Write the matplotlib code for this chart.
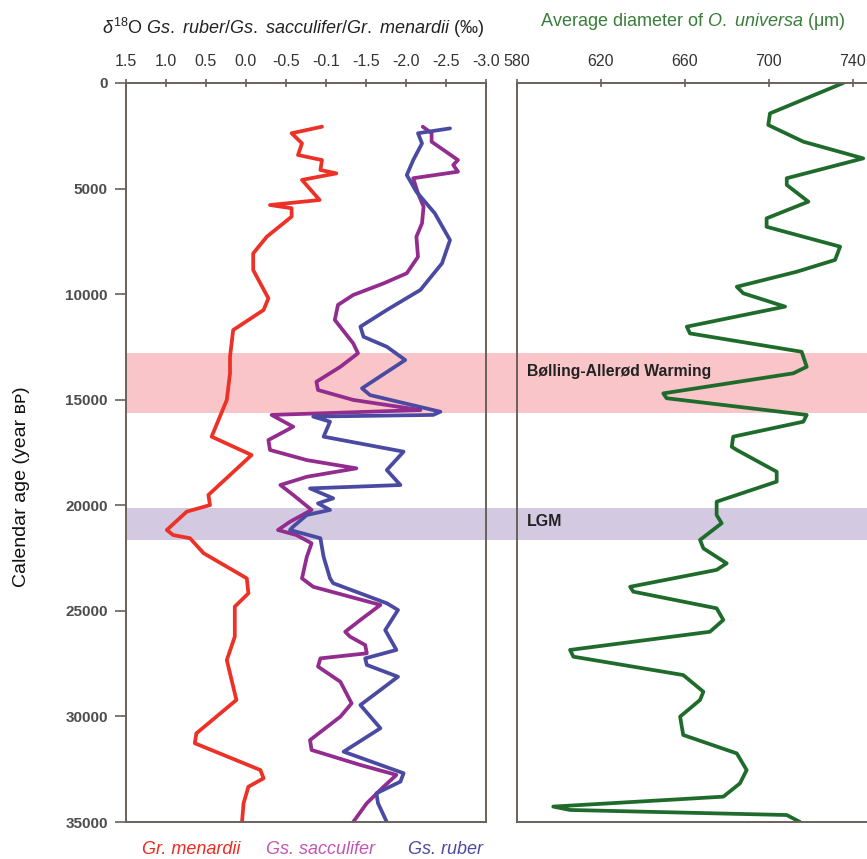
import numpy as np
import matplotlib.pyplot as plt
from matplotlib.patches import Rectangle
from matplotlib.transforms import blended_transform_factory

plt.rcParams['font.family'] = ['Liberation Sans', 'DejaVu Sans']
plt.rcParams['mathtext.fontset'] = 'custom'
plt.rcParams['mathtext.rm'] = 'Liberation Sans'
plt.rcParams['mathtext.it'] = 'Liberation Sans:italic'
plt.rcParams['mathtext.bf'] = 'Liberation Sans:bold'

# Gr. menardii (red)
men_age = [2070, 2380, 2860, 3410, 3650, 4120, 4280, 4590, 5540, 5780,
           5930, 6330, 7280, 8070, 8860, 10200, 10750, 11700, 12960, 13750,
           15010, 16750, 17620, 19510, 19990, 20300, 21170, 21410, 21560, 22270,
           23460, 24170, 24800, 26220, 27330, 29220, 30800, 31270, 32540, 32930,
           33330, 34110, 35000]
men_d18o = [-0.95, -0.57, -0.70, -0.65, -0.95, -0.93, -1.13, -0.70, -0.92, -0.30,
            -0.57, -0.57, -0.26, -0.09, -0.09, -0.28, -0.22, 0.16, 0.20, 0.20,
            0.24, 0.43, -0.07, 0.47, 0.45, 0.74, 0.99, 0.91, 0.70, 0.53,
            -0.01, -0.03, 0.14, 0.14, 0.24, 0.12, 0.62, 0.64, -0.18, -0.22,
            -0.03, 0.03, 0.05]

# Gs. sacculifer (purple)
sac_age = [2070, 2380, 2780, 3650, 3880, 4200, 4510, 5220, 5860, 6650,
           7280, 8230, 9010, 9490, 10040, 10510, 11220, 12330, 12800, 13440,
           14150, 14540, 15010, 15490, 15720, 16280, 16910, 17380, 17860, 18250,
           18650, 19040, 19510, 20220, 20780, 21170, 21410, 21800, 22440, 23460,
           23860, 24720, 25430, 25990, 26220, 26620, 27010, 27250, 27640, 28360,
           29380, 30010, 31120, 31590, 32300, 32770, 33330, 34110, 35000]
sac_d18o = [-2.21, -2.32, -2.32, -2.65, -2.59, -2.65, -2.09, -2.15, -2.22, -2.20,
            -2.13, -2.15, -2.01, -1.72, -1.34, -1.15, -1.11, -1.34, -1.40, -1.18,
            -0.88, -0.90, -1.34, -2.18, -0.32, -0.59, -0.28, -0.30, -0.76, -1.38,
            -0.76, -0.43, -0.59, -0.82, -0.55, -0.40, -0.63, -0.82, -0.76, -0.70,
            -0.84, -1.68, -1.43, -1.24, -1.30, -1.49, -1.51, -0.93, -0.90, -1.18,
            -1.32, -1.18, -0.80, -0.82, -1.43, -1.88, -1.72, -1.51, -1.34]

# Gs. ruber (blue)
rub_age = [2150, 2380, 2860, 3650, 4360, 5150, 6170, 7440, 8540, 9800,
           10750, 11540, 12020, 12490, 13120, 14460, 14780, 15570, 15720, 15800,
           16040, 16750, 17460, 18330, 19040, 19200, 19670, 19910, 20220, 20460,
           21010, 21170, 21560, 22440, 23460, 23690, 24640, 24960, 25910, 26850,
           27250, 27560, 28120, 29460, 30560, 31670, 32690, 33090, 33640, 34110,
           35000]
rub_d18o = [-2.55, -2.15, -2.20, -2.09, -2.01, -2.13, -2.36, -2.55, -2.45, -2.18,
            -1.76, -1.43, -1.47, -1.76, -1.99, -1.45, -1.55, -2.43, -2.34, -0.84,
            -1.05, -0.97, -1.97, -1.76, -1.93, -0.80, -1.09, -0.90, -1.05, -0.76,
            -0.59, -0.55, -0.93, -0.97, -1.05, -1.09, -1.76, -1.90, -1.74, -1.88,
            -1.49, -1.51, -1.90, -1.43, -1.68, -1.22, -1.97, -1.93, -1.63, -1.65,
            -1.76]

# O. universa average diameter (green)
uni_age = [0, 1440, 1990, 2780, 3570, 4510, 4830, 5620, 6410, 6810,
           7750, 8380, 8940, 9650, 9960, 10590, 11540, 11860, 12730, 13440,
           13750, 14700, 14930, 15720, 16040, 16750, 17230, 17380, 18410, 18880,
           19830, 20460, 20850, 21640, 22040, 22750, 23060, 23860, 24090, 24880,
           25430, 25990, 26850, 27170, 28040, 28830, 29220, 30010, 30880, 31750,
           32540, 33170, 33800, 34270, 34430, 34670, 35000]
uni_diam = [735.5, 700.6, 699.8, 716.5, 745.0, 708.6, 708.6, 718.9, 699.0, 699.0,
            734.0, 731.6, 713.3, 684.8, 687.9, 707.8, 661.0, 662.5, 715.7, 718.1,
            711.7, 649.8, 651.4, 718.1, 716.5, 683.1, 682.4, 684.8, 703.8, 703.8,
            675.2, 675.2, 677.6, 667.3, 668.9, 680.0, 675.2, 634.0, 635.5, 675.2,
            678.4, 672.0, 605.4, 607.0, 659.3, 668.9, 667.3, 657.8, 659.3, 684.8,
            689.5, 686.3, 678.4, 597.4, 605.4, 708.6, 714.9]

d18o_ticks = [1.5, 1.0, 0.5, 0.0, -0.5, -1.0, -1.5, -2.0, -2.5, -3.0]
d18o_labels = ['1.5', '1.0', '0.5', '0.0', '-0.5', '-0.1', '-1.5', '-2.0', '-2.5', '-3.0']
diam_ticks = [580, 620, 660, 700, 740]
age_ticks = [0, 5000, 10000, 15000, 20000, 25000, 30000, 35000]

ba_band = (12800, 15640)
lgm_band = (20140, 21640)
ba_label_age = 13650
lgm_label_age = 20780

spine_col = '#6a615a'
red = '#ec3127'
purple = '#922c8e'
blue = '#4a4aa2'
green = '#1f6b2c'
lw = 2.7

W, H = 867, 859
fig = plt.figure(figsize=(W / 100, H / 100), dpi=100)

ax1 = fig.add_axes([126 / W, 1 - 822 / H, 360 / W, 739 / H])
ax2 = fig.add_axes([516.7 / W, 1 - 822 / H, 180 * 2.1 / W, 739 / H])

for ax in (ax1, ax2):
    ax.set_facecolor('none')
    ax.set_ylim(35000, 0)
    for s in ax.spines.values():
        s.set_color(spine_col)
        s.set_linewidth(1.4)
    ax.xaxis.tick_top()
    ax.tick_params(axis='x', direction='inout', length=6, width=1.2, color=spine_col,
                   labelsize=11.5, labelcolor='#333333', pad=7)

ax1.plot(men_d18o, men_age, color=red, lw=lw, solid_joinstyle='round', solid_capstyle='round')
ax1.plot(sac_d18o, sac_age, color=purple, lw=lw, solid_joinstyle='round', solid_capstyle='round')
ax1.plot(rub_d18o, rub_age, color=blue, lw=lw, solid_joinstyle='round', solid_capstyle='round')
ax1.set_xlim(1.5, -3.0)
ax1.set_xticks(d18o_ticks)
ax1.set_xticklabels(d18o_labels)
ax1.set_yticks(age_ticks)
ax1.set_yticklabels([str(a) for a in age_ticks], fontweight='bold')
ax1.tick_params(axis='y', direction='out', length=8, width=1.2, color=spine_col,
                labelsize=11, labelcolor='#4d4d4d', pad=5)

ax2.plot(uni_diam, uni_age, color=green, lw=lw, solid_joinstyle='round', solid_capstyle='round')
ax2.set_xlim(580, 760)
ax2.set_xticks(diam_ticks)
ax2.set_yticks([])
ax2.spines['right'].set_visible(False)

# shaded intervals running across both panels
tr = blended_transform_factory(fig.transFigure, ax1.transData)
for (y0, y1), col in [(ba_band, '#f9c5c8'), (lgm_band, '#d3c9e1')]:
    fig.add_artist(Rectangle((126 / W, y0), 1 - 126 / W, y1 - y0, transform=tr,
                             facecolor=col, edgecolor='none', zorder=-1))

ax2.text(585, ba_label_age, 'Bølling-Allerød Warming', fontsize=11.3,
         fontweight='bold', color='#222222', va='center', ha='left')
ax2.text(585, lgm_label_age, 'LGM', fontsize=11.5,
         fontweight='bold', color='#222222', va='center', ha='left')

fig.text(22 / W, 1 - 487 / H, 'Calendar age (year ʙᴘ)', rotation=90,
         fontsize=14, color='#111111', ha='center', va='center')

fig.text(293 / W, 1 - 28 / H,
         r'$\delta^{18}$O $\mathit{Gs.\ ruber}$/$\mathit{Gs.\ sacculifer}$/$\mathit{Gr.\ menardii}$ (‰)',
         fontsize=13, ha='center', va='center', color='#222222')
fig.text(693 / W, 1 - 22 / H, r'Average diameter of $\mathit{O.\ universa}$ (μm)',
         fontsize=13, ha='center', va='center', color='#3a7d3a')

fig.text(191 / W, 1 - 849 / H, 'Gr. menardii', style='italic', fontsize=13,
         color='#ee2a22', ha='center', va='center')
fig.text(320 / W, 1 - 849 / H, 'Gs. sacculifer', style='italic', fontsize=13,
         color='#c454b4', ha='center', va='center')
fig.text(445 / W, 1 - 849 / H, 'Gs. ruber', style='italic', fontsize=13,
         color='#4a4aa2', ha='center', va='center')

fig.savefig('out.png', dpi=100)
